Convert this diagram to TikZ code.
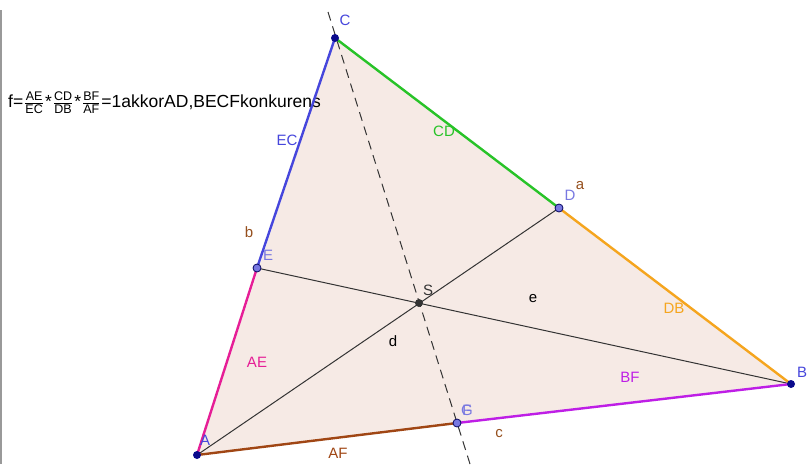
\documentclass[tikz,border=0pt]{standalone}
\usepackage{amsmath}
\usepackage{fontspec}
\setmainfont{Liberation Sans}
\usepackage{tikz}
\usetikzlibrary{positioning}
\usetikzlibrary{calc}

\definecolor{trifill}{RGB}{246,234,229}
\definecolor{sideAE}{RGB}{230,30,150}
\definecolor{sideEC}{RGB}{70,70,220}
\definecolor{sideCD}{RGB}{40,195,40}
\definecolor{sideDB}{RGB}{245,165,30}
\definecolor{sideBF}{RGB}{190,30,230}
\definecolor{sideAF}{RGB}{160,70,20}
\definecolor{lblbrown}{RGB}{150,80,30}
\definecolor{ptdark}{RGB}{10,10,140}
\definecolor{ptlight}{RGB}{120,120,225}

\newcommand{\frc}[2]{\kern1pt$\genfrac{}{}{0.8pt}{}{\hbox{\fontsize{12.5}{13}\selectfont #1}}{\hbox{\fontsize{12.5}{13}\selectfont #2}}$\kern1pt}

\tikzset{
    side/.style={line width=2.4pt},
    cev/.style={line width=1pt, draw=black!80},
    ptmain/.style={circle, fill=ptdark, inner sep=0pt, minimum size=8pt},
    ptside/.style={circle, fill=ptlight, draw=ptdark!70!black, line width=0.8pt, inner sep=0pt, minimum size=8pt},
    lbl/.style={font=\fontsize{15}{17}\selectfont, inner sep=1pt}
}

\begin{document}
\begin{tikzpicture}[x=1pt,y=-1pt]
    \useasboundingbox (0,0) rectangle (808,464);
    \fill[white] (0,0) rectangle (808,464);
    \draw[black!40, line width=2pt] (1,10) -- (1,464);

    \coordinate (A) at (197,455);
    \coordinate (B) at (791,384);
    \coordinate (C) at (335,38);
    \coordinate (D) at (559,208);
    \coordinate (E) at (257,268);
    \coordinate (F) at (457,423);
    \coordinate (S) at (419,303);
    \coordinate (t) at (328,12);
    \coordinate (u) at (470,464);

    % triangle
    \fill[trifill] (A) -- (B) -- (C) -- cycle;

    \node[anchor=west, inner sep=0pt, font=\fontsize{17.5}{19}\selectfont] (frm) at (8,103)
        {f=\frc{AE}{EC}*\frc{CD}{DB}*\frc{BF}{AF}=1akkorAD,BECFkonkurens};

    \draw[cev] (A) -- (D);
    \draw[cev] (B) -- (E);
    \draw[line width=1pt, black!80, dash pattern=on 9pt off 6pt] (t) -- (u);

    \draw[side, sideAE] (A) -- (E);
    \draw[side, sideEC] (E) -- (C);
    \draw[side, sideCD] (C) -- (D);
    \draw[side, sideDB] (D) -- (B);
    \draw[side, sideBF] (B) -- (F);
    \draw[side, sideAF] (F) -- (A);

    \node[ptmain] (pA) at (A) {};
    \node[ptmain] (pB) at (B) {};
    \node[ptmain] (pC) at (C) {};
    \node[ptside] (pD) at (D) {};
    \node[ptside] (pE) at (E) {};
    \node[ptside] (pF) at (F) {};
    \node[circle, fill=black!80, inner sep=0pt, minimum size=8pt] (pS) at (S) {};

    % point names
    \node[lbl, sideEC] (nC) at (345,20) {C};
    \node[lbl, sideEC] (nB) at (802,372) {B};
    \node[lbl, sideEC] (nA) at (205,440) {A};
    \node[lbl, ptlight] (nD) at (570,195) {D};
    \node[lbl, ptlight] (nE) at (268,255) {E};
    \node[lbl, ptlight] (nF) at (467,410) {F};
    \node[lbl, ptlight] (nG) at (467,410) {G};
    \node[lbl, black!80] (nS) at (428,290) {S};

    % side labels
    \node[lbl, sideEC] (lEC) at (287,140) {EC};
    \node[lbl, sideCD] (lCD) at (444,131) {CD};
    \node[lbl, sideDB] (lDB) at (674,308) {DB};
    \node[lbl, sideBF] (lBF) at (630,377) {BF};
    \node[lbl, sideAF] (lAF) at (338,453) {AF};
    \node[lbl, sideAE] (lAE) at (257,362) {AE};
    \node[lbl, lblbrown] (la) at (580,186) {a};
    \node[lbl, lblbrown] (lb) at (249,232) {b};
    \node[lbl, lblbrown] (lc) at (499,434) {c};
    \node[lbl] (ld) at (393,341) {d};
    \node[lbl] (le) at (533,299) {e};
\end{tikzpicture}
\end{document}
